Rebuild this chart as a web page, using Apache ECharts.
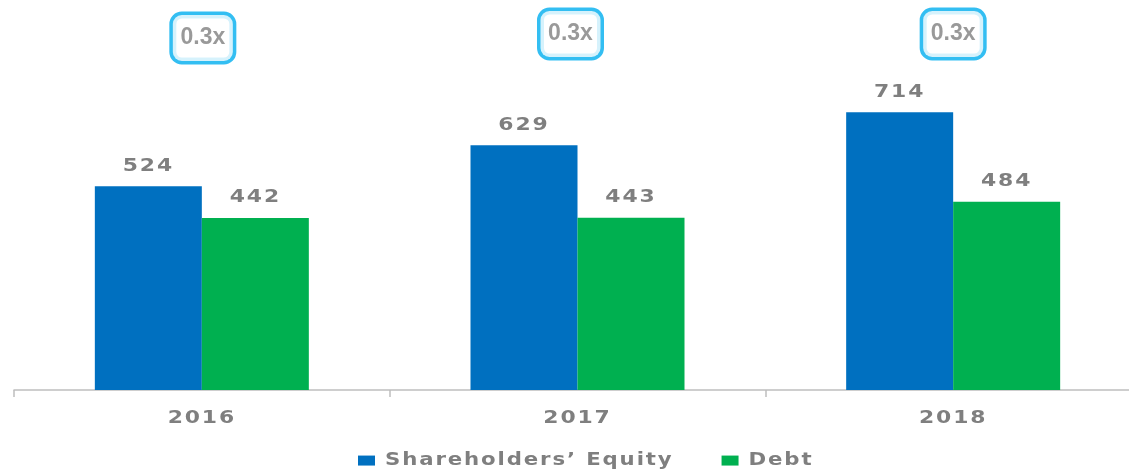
<!DOCTYPE html>
<html><head><meta charset="utf-8">
<script src="https://cdn.jsdelivr.net/npm/echarts@6/dist/echarts.min.js"></script>
<style>html,body{margin:0;padding:0;background:#fff}#c{width:1129px;height:471px}</style>
</head><body><div id="c"></div>
<script>
const years = ['2016', '2017', '2018'];
const equity = [524, 629, 714];
const debt = [442, 443, 484];
const ratioLabels = ['0.3x', '0.3x', '0.3x'];
const seriesNames = ['Shareholders\u2019 Equity', 'Debt'];

// the original's text is horizontally stretched and loosely spaced: emulate for DejaVu text only
(function () {
  const SX = 1.25, LS = '1.5px';
  const P = CanvasRenderingContext2D.prototype;
  const fill = P.fillText, measure = P.measureText;
  P.fillText = function (t, x, y, m) {
    if (!/DejaVu/.test(this.font)) return fill.apply(this, arguments);
    this.save();
    this.letterSpacing = LS;
    this.translate(x, y);
    this.scale(SX, 1);
    fill.call(this, t, 0, 0);
    this.restore();
  };
  P.measureText = function (t) {
    if (!/DejaVu/.test(this.font)) return measure.apply(this, arguments);
    const prev = this.letterSpacing;
    this.letterSpacing = LS;
    const r = measure.call(this, t);
    this.letterSpacing = prev;
    const o = {};
    for (const k in r) o[k] = r[k];
    o.width = r.width * SX;
    o.actualBoundingBoxLeft = r.actualBoundingBoxLeft * SX;
    o.actualBoundingBoxRight = r.actualBoundingBoxRight * SX;
    return o;
  };
})();

const GREY = '#7f7f7f';
const WIDE = "'DejaVu Sans', Verdana, sans-serif";
const chart = echarts.init(document.getElementById('c'), null, {renderer: 'canvas'});
const labelFont = {fontFamily: WIDE, fontWeight: 'bold', fontSize: 17.5, color: GREY};
const ratioY = 910;
const ratioOffsets = [[1, 2], [-7, -2], [0, -2]];

chart.setOption({
  animation: false,
  grid: {left: 14, top: 1, width: 1127, height: 389, containLabel: false, outerBoundsMode: 'none'},
  legend: {
    data: seriesNames,
    left: 353, top: 444,
    itemWidth: 17, itemHeight: 10, itemGap: 48,
    icon: 'rect',
    textStyle: {fontFamily: WIDE, fontWeight: 'bold', fontSize: 17, color: GREY, padding: [0, 0, 0, 5]}
  },
  xAxis: {
    type: 'category', data: years,
    axisLine: {lineStyle: {color: '#bfbfbf', width: 1.5}},
    axisTick: {show: true, length: 7, lineStyle: {color: '#bfbfbf', width: 1.5}},
    axisLabel: Object.assign({margin: 16}, labelFont)
  },
  yAxis: {type: 'value', min: 0, max: 1000, show: false, splitLine: {show: false}},
  series: [
    {name: seriesNames[0], type: 'bar', data: equity, barWidth: 107, barGap: '0%',
     itemStyle: {color: '#0070C0'},
     label: Object.assign({show: true, position: 'top', distance: 8}, labelFont)},
    {name: seriesNames[1], type: 'bar', data: debt, barWidth: 107, barGap: '0%',
     itemStyle: {color: '#00B050'},
     label: Object.assign({show: true, position: 'top', distance: 8}, labelFont)},
    {name: 'ratio', type: 'scatter', symbolSize: 0, silent: true,
     data: ratioLabels.map((t, i) => ({value: [years[i], ratioY], name: t,
       label: {offset: ratioOffsets[i]}})),
     label: {show: true, position: 'inside',
       formatter: p => p.name,
       fontFamily: "'Liberation Sans', Arial, sans-serif", fontWeight: 'bold', fontSize: 23, color: GREY,
       backgroundColor: '#fff', borderColor: '#00AEEF', borderWidth: 3.5, borderRadius: 9,
       width: 60, height: 46, lineHeight: 46, align: 'center', verticalAlign: 'middle', padding: 0}}
  ]
});
</script></body></html>
